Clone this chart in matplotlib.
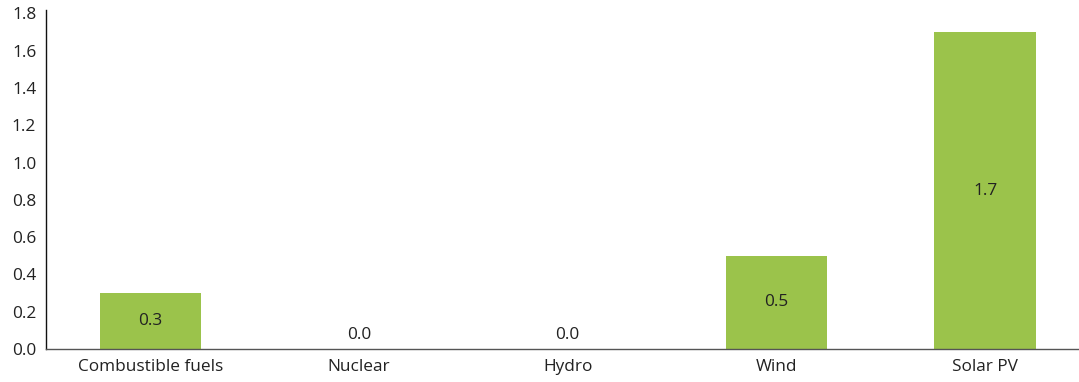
import matplotlib.pyplot as plt

categories = ['Combustible fuels', 'Nuclear', 'Hydro', 'Wind', 'Solar PV']
values = [0.3, 0.0, 0.0, 0.5, 1.7]
yticks = [0.0, 0.2, 0.4, 0.6, 0.8, 1.0, 1.2, 1.4, 1.6, 1.8]

plt.rcParams['font.family'] = ['Open Sans', 'DejaVu Sans']

fig = plt.figure(figsize=(10.79, 3.82), dpi=100)
ax = fig.add_axes([46 / 1079, 33 / 382, 1 - 46 / 1079, 339 / 382])

x = range(len(categories))
ax.bar(x, values, width=0.485, color='#9bc34b', zorder=2)

# value labels sit in the middle of each bar, zeros just above the axis
for xi, v in zip(x, values):
    ypos = v / 2 if v > 0 else 0.075
    ax.text(xi, ypos, f'{v:.1f}', ha='center', va='center',
            fontsize=12.4, color='#222222', zorder=3)

ax.set_xlim(-0.5, 4.45)
ax.set_ylim(0, 1.818)
ax.set_xticks(list(x))
ax.set_xticklabels(categories, fontsize=12.4, color='#222222')
ax.set_yticks(yticks)
ax.set_yticklabels([f'{t:.1f}' for t in yticks], fontsize=12.4, color='#222222')
ax.tick_params(axis='both', length=0)
ax.tick_params(axis='y', pad=7)
ax.tick_params(axis='x', pad=7)

for s in ['top', 'right']:
    ax.spines[s].set_visible(False)
ax.spines['left'].set_color('#111111')
ax.spines['left'].set_linewidth(1.0)
ax.spines['bottom'].set_color('#555555')
ax.spines['bottom'].set_linewidth(1.0)
ax.spines['bottom'].set_zorder(4)

fig.savefig('out.png', dpi=100, facecolor='white')
